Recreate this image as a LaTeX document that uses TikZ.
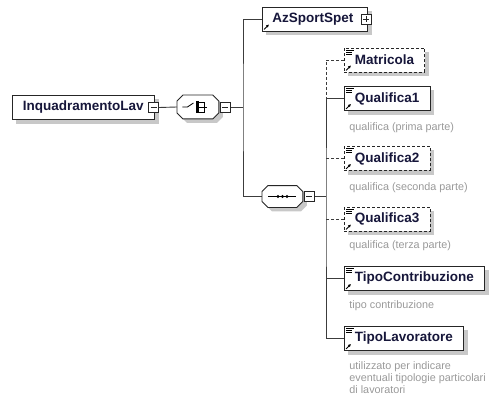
\documentclass[tikz,border=0pt]{standalone}
\usepackage{fontspec}
\setmainfont{Liberation Sans}
\usetikzlibrary{arrows.meta,backgrounds}
\definecolor{nm}{RGB}{22,22,58}
\definecolor{ln}{RGB}{60,60,60}
\definecolor{shd}{RGB}{200,200,200}

\begin{document}
\begin{tikzpicture}[x=1pt, y=-1pt, line width=.9pt,
  elem/.style={draw=black!85, fill=white, anchor=west, text=nm, font=\bfseries\fontsize{13.5}{16}\selectfont,
    minimum height=24pt, inner xsep=10.5pt, inner ysep=0pt},
  opt/.style={elem, dash pattern=on 3pt off 2pt},
  optline/.style={dash pattern=on 3pt off 2pt},
  grp/.style={anchor=west, inner sep=0pt, minimum width=41pt, minimum height=23pt},
  octa/.style={draw=black!85, fill=white},
  pm/.style={draw=black!85, fill=white, line width=.6pt, minimum size=10pt, inner sep=0pt, anchor=west},
  minus/.style={pm, path picture={\draw[line width=.6pt] ([xshift=2pt]path picture bounding box.west) -- ([xshift=-2pt]path picture bounding box.east);}},
  plus/.style={pm, path picture={\draw[line width=.6pt] ([xshift=2pt]path picture bounding box.west) -- ([xshift=-2pt]path picture bounding box.east)
    ([yshift=2pt]path picture bounding box.south) -- ([yshift=-2pt]path picture bounding box.north);}},
  desc/.style={anchor=base west, text=black!40, font=\fontsize{10.8}{11.6}\selectfont, align=left, inner sep=0pt},
  ref/.style={-{Latex[length=3pt,width=3pt]}, line width=.8pt}]
  \useasboundingbox (0,0) rectangle (492,398);

  \node[elem] (root) at (12,107.5) {InquadramentoLav};
  \node[minus, anchor=center] (rootx) at ([xshift=-1pt]root.east) {};
  \node[grp] (ch) at (177,107) {};

  \node[elem, inner xsep=0pt] (az) at (262,19) {\hspace*{10pt}AzSportSpet\hspace*{14pt}};
  \node[plus, anchor=center] (azx) at ([xshift=-2pt]az.east) {};
  \node[grp, minimum width=40pt, minimum height=21pt] (seq) at (262,196.5) {};

  \node[opt]  (mat) at (344,60)    {Matricola};
  \node[elem] (q1)  at (344,98.5)  {Qualifica1};
  \node[opt]  (q2)  at (344,158.5) {Qualifica2};
  \node[opt]  (q3)  at (344,219)   {Qualifica3};
  \node[elem] (tc)  at (344,278.5) {TipoContribuzione};
  \node[elem] (tl)  at (344,338.5) {TipoLavoratore};

  \node[desc] (q1d) at (349,131)   {qualifica (prima parte)};
  \node[desc] (q2d) at (349,190.5) {qualifica (seconda parte)};
  \node[desc] (q3d) at (349,248.5) {qualifica (terza parte)};
  \node[desc] (tcd) at (349,308.5) {tipo contribuzione};
  \node[desc] (tld) at (349,393)   {utilizzato per indicare\\eventuali tipologie particolari\\di lavoratori};

  \begin{scope}[on background layer]
    \foreach \n in {root,az,mat,q1,q2,q3,tc,tl}
      \fill[shd] ([shift={(4,4)}]\n.north west) rectangle ([shift={(4,4)}]\n.south east);
  \end{scope}

  \foreach \g in {ch,seq} {
    \fill[shd, transform canvas={xshift=4pt, yshift=-4pt}] ([shift={(6,0)}]\g.north west) -- ([shift={(-6,0)}]\g.north east)
      -- ([shift={(0,6)}]\g.north east) -- ([shift={(0,-6)}]\g.south east)
      -- ([shift={(-6,0)}]\g.south east) -- ([shift={(6,0)}]\g.south west)
      -- ([shift={(0,-6)}]\g.south west) -- ([shift={(0,6)}]\g.north west) -- cycle;
    \draw[octa] ([shift={(6,0)}]\g.north west) -- ([shift={(-6,0)}]\g.north east)
      -- ([shift={(0,6)}]\g.north east) -- ([shift={(0,-6)}]\g.south east)
      -- ([shift={(-6,0)}]\g.south east) -- ([shift={(6,0)}]\g.south west)
      -- ([shift={(0,-6)}]\g.south west) -- ([shift={(0,6)}]\g.north west) -- cycle;
  }
  \node[minus] (chx) at ([xshift=1pt]ch.east) {};
  \node[minus] (seqx) at ([xshift=1pt]seq.east) {};

  \coordinate (b1) at (243,107);
  \coordinate (b2) at (326,196.5);
  \draw[ln] (rootx.east) -- (ch.west);
  \draw[ln] (chx.east) -- (b1);
  \draw[ln] (az.west) -| (b1) |- (seq.west);
  \draw[ln] (seqx.east) -- (b2);
  \draw[ln, optline] (mat.west) -| (b2 |- q1.west);
  \draw[ln] (q1.west) -| (b2) |- (tl.west);
  \draw[ln] (tc.west) -- (b2 |- tc.west);
  \draw[ln, optline] (q2.west) -- (b2 |- q2.west);
  \draw[ln, optline] (q3.west) -- (b2 |- q3.west);

  \draw[line width=.8pt] ([xshift=-15.5pt]ch.center) -- ++(5,0) -- ++(6,-4);
  \draw[line width=2.2pt] ([shift={(-0.5,-6)}]ch.center) -- ++(0,12);
  \draw[line width=.8pt] ([shift={(-0.5,-5)}]ch.center) -- ++(7,0) -- ++(0,10) -- ++(-7,0)
    ([shift={(-0.5,0)}]ch.center) -- ++(10,0);
  \draw[line width=.8pt] ([xshift=-14pt]seq.center) -- ([xshift=14pt]seq.center);
  \foreach \d in {-4.5,0,4.5}
    \fill ([xshift=\d pt]seq.center) circle (1.6);

  \foreach \n in {mat,q1,q2,q3,tc,tl} {
    \draw[line width=.6pt] ([shift={(2,2.5)}]\n.north west) -- ++(8,0)
      ([shift={(2,4.5)}]\n.north west) -- ++(6,0)
      ([shift={(2,6.5)}]\n.north west) -- ++(6,0);
  }
  \foreach \n in {az,mat,q1,q2,q3,tc,tl}
    \draw[ref] ([shift={(2,-2)}]\n.south west) -- ++(5,-5);
\end{tikzpicture}
\end{document}
